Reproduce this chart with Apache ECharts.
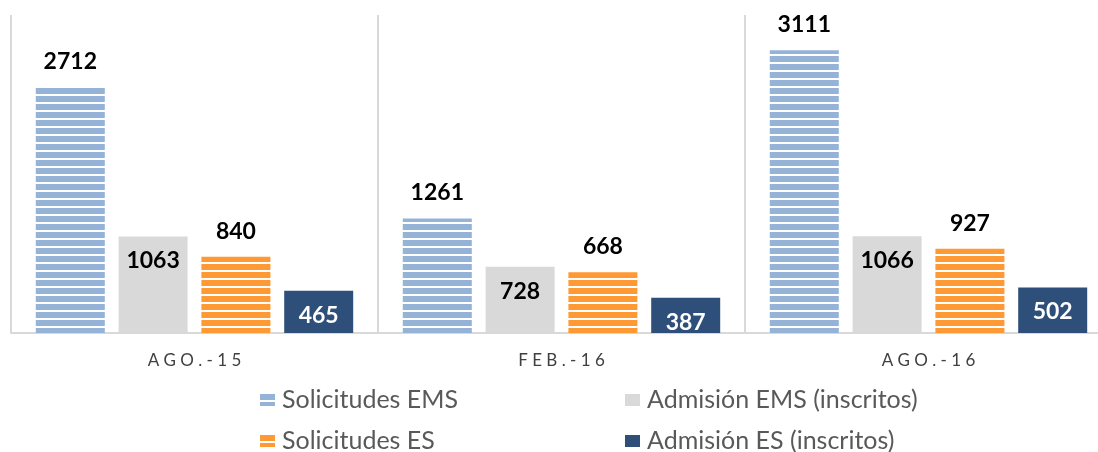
<!DOCTYPE html>
<html>
<head>
<meta charset="utf-8">
<script src="https://cdn.jsdelivr.net/npm/echarts@6/dist/echarts.min.js"></script>
<style>
  html, body { margin: 0; padding: 0; background: #fff; }
  #chart { width: 1098px; height: 452px; }
</style>
</head>
<body>
<div id="chart"></div>
<script>
const categories = ['AGO.-15', 'FEB.-16', 'AGO.-16']
const seriesNames = ['Solicitudes EMS', 'Admisión EMS (inscritos)', 'Solicitudes ES', 'Admisión ES (inscritos)']
const solicitudesEMS = [2712, 1261, 3111]
const admisionEMS = [1063, 728, 1066]
const solicitudesES = [840, 668, 927]
const admisionES = [465, 387, 502]

// franjas horizontales como en Excel
const stripes = (color) => {
  const c = document.createElement('canvas')
  c.width = 8
  c.height = 8
  const ctx = c.getContext('2d')
  ctx.fillStyle = '#ffffff'
  ctx.fillRect(0, 0, 8, 8)
  ctx.fillStyle = color
  ctx.fillRect(0, 0, 8, 6)
  return { image: c, repeat: 'repeat' }
}

const chart = echarts.init(document.getElementById('chart'))

const topLabel = {
  show: true,
  position: 'top',
  distance: 14,
  color: '#000',
  fontFamily: 'Lato',
  fontWeight: 'bold',
  fontSize: 23
}
const insideLabel = (color) => ({
  show: true,
  position: 'insideTop',
  distance: 13,
  color: color,
  fontFamily: 'Lato',
  fontWeight: 'bold',
  fontSize: 23
})

const legendBase = {
  itemWidth: 15,
  itemHeight: 12,
  icon: 'rect',
  padding: 0,
  itemGap: 5,
  textStyle: { color: '#595959', fontFamily: 'Lato', fontSize: 25, lineHeight: 26, padding: [0, 0, 0, 2] }
}

chart.setOption({
  animation: false,
  backgroundColor: '#fff',
  // la última categoría queda cortada a la derecha, como en el original
  grid: { left: 11, width: 1101, top: 15, bottom: 119, outerBoundsMode: 'none' },
  legend: [
    Object.assign({}, legendBase, { data: [seriesNames[0]], left: 260, top: 387 }),
    Object.assign({}, legendBase, { data: [seriesNames[1]], left: 625, top: 387 }),
    Object.assign({}, legendBase, { data: [seriesNames[2]], left: 260, top: 428 }),
    Object.assign({}, legendBase, { data: [seriesNames[3]], left: 625, top: 428 })
  ],
  xAxis: {
    type: 'category',
    data: categories.map(c => c.split('').join(' ')),
    axisLine: { lineStyle: { color: '#d9d9d9', width: 2 } },
    axisTick: { show: false },
    splitLine: { show: true, lineStyle: { color: '#d9d9d9', width: 2 } },
    axisLabel: { color: '#404040', fontFamily: 'Lato', fontSize: 17, margin: 19 }
  },
  yAxis: {
    type: 'value',
    min: 0,
    max: 3500,
    show: false,
    splitLine: { show: false }
  },
  series: [
    {
      name: seriesNames[0], type: 'bar', data: solicitudesEMS,
      barWidth: 69, barGap: '20%',
      itemStyle: { color: stripes('#95b3d7') },
      label: topLabel
    },
    {
      name: seriesNames[1], type: 'bar', data: admisionEMS,
      barWidth: 69, barGap: '20%',
      itemStyle: { color: '#d9d9d9' },
      label: insideLabel('#000')
    },
    {
      name: seriesNames[2], type: 'bar', data: solicitudesES,
      barWidth: 69, barGap: '20%',
      itemStyle: { color: stripes('#ff9933') },
      label: topLabel
    },
    {
      name: seriesNames[3], type: 'bar', data: admisionES,
      barWidth: 69, barGap: '20%',
      itemStyle: { color: '#2e4f79' },
      label: insideLabel('#fff')
    }
  ]
})

window.addEventListener('resize', () => chart.resize())
</script>
</body>
</html>
